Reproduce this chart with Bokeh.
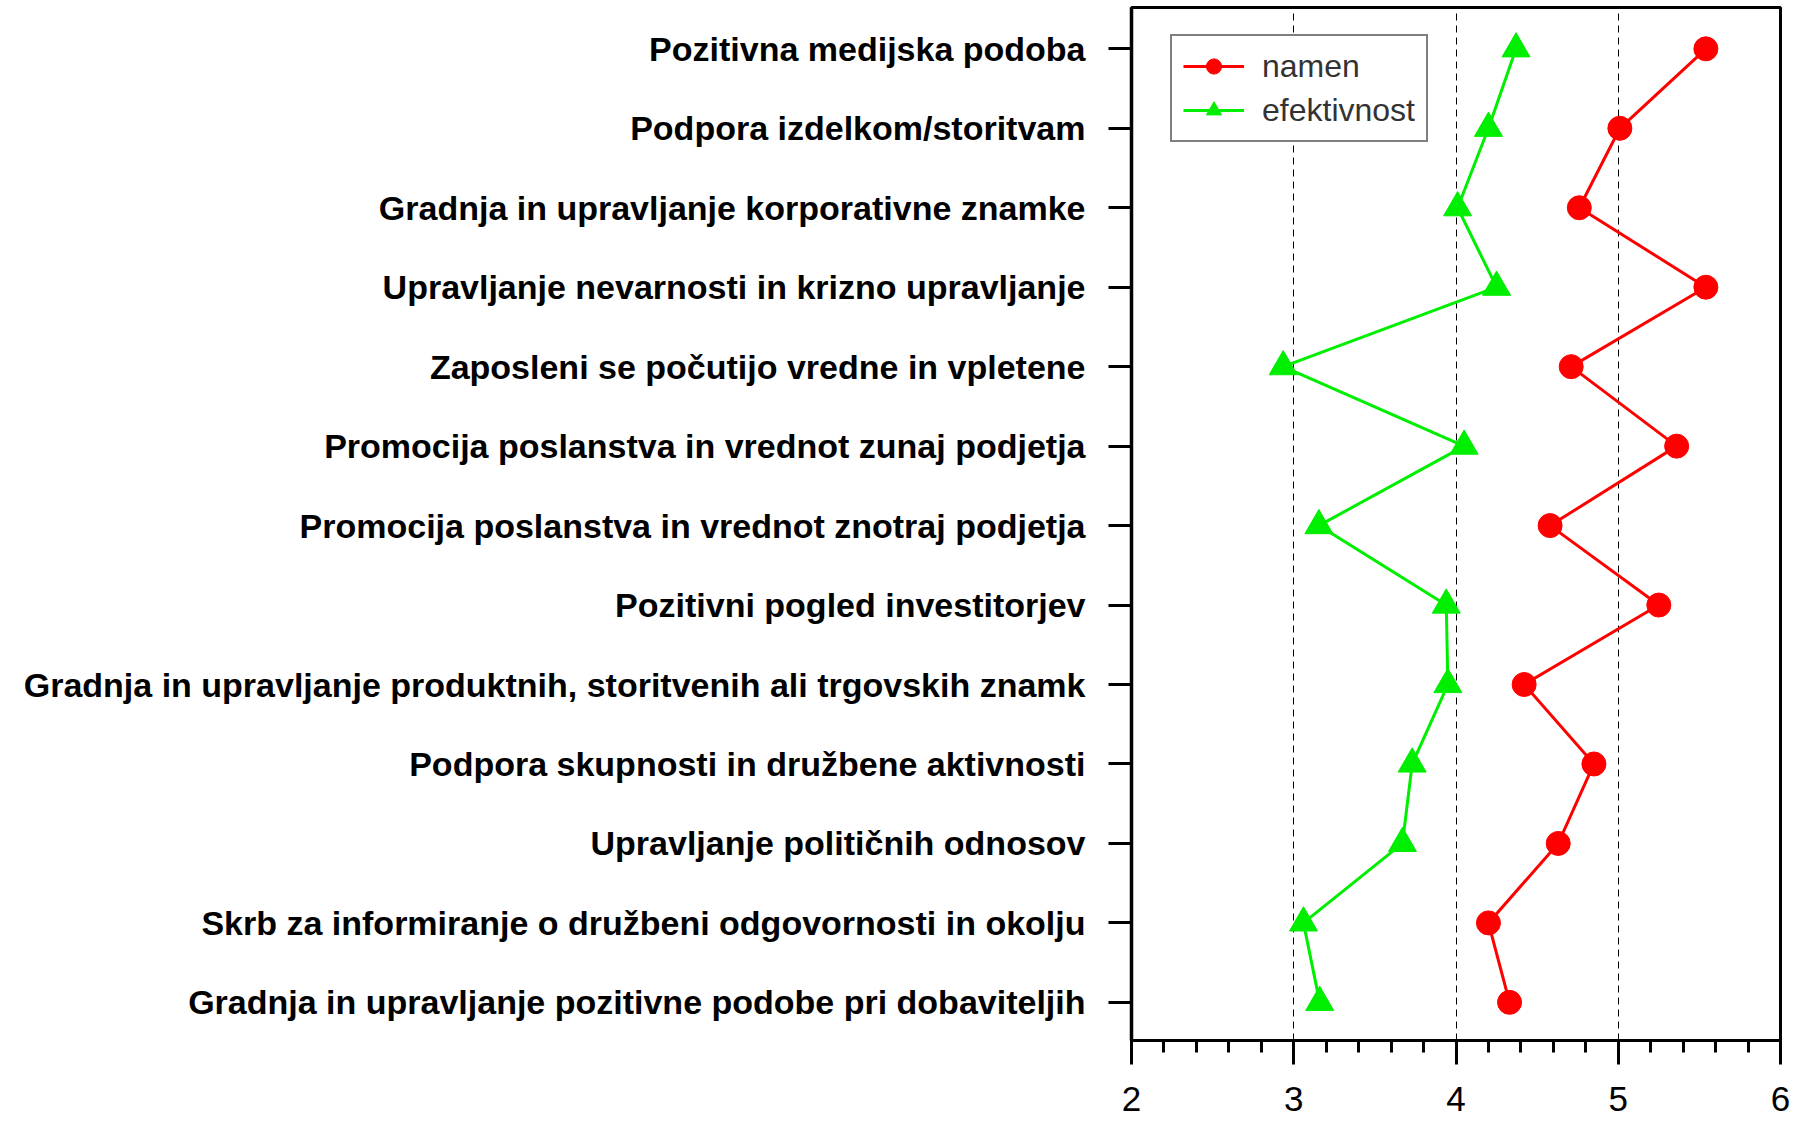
from bokeh.plotting import figure
from bokeh.models import FixedTicker, Range1d, Legend, LegendItem
from bokeh.embed import file_html
from bokeh.resources import INLINE

categories = [
    "Pozitivna medijska podoba",
    "Podpora izdelkom/storitvam",
    "Gradnja in upravljanje korporativne znamke",
    "Upravljanje nevarnosti in krizno upravljanje",
    "Zaposleni se počutijo vredne in vpletene",
    "Promocija poslanstva in vrednot zunaj podjetja",
    "Promocija poslanstva in vrednot znotraj podjetja",
    "Pozitivni pogled investitorjev",
    "Gradnja in upravljanje produktnih, storitvenih ali trgovskih znamk",
    "Podpora skupnosti in družbene aktivnosti",
    "Upravljanje političnih odnosov",
    "Skrb za informiranje o družbeni odgovornosti in okolju",
    "Gradnja in upravljanje pozitivne podobe pri dobaviteljih",
]
namen = [5.54, 5.01, 4.76, 5.54, 4.71, 5.36, 4.58, 5.25, 4.42, 4.85, 4.63, 4.20, 4.33]
efektivnost = [4.37, 4.20, 4.01, 4.25, 2.935, 4.05, 3.155, 3.94, 3.95, 3.73, 3.67, 3.06, 3.16]
x_ticks = [2, 3, 4, 5, 6]
grid_ticks = [3, 4, 5]

n = len(categories)
ypos = [n - i for i in range(n)]

p = figure(width=1800, height=1123, output_backend="svg", toolbar_location=None,
           x_range=Range1d(2, 6), y_range=Range1d(0.52, n + 0.52),
           min_border_left=1131, min_border_right=20, min_border_top=7, min_border_bottom=83)

p.background_fill_color = "white"
p.border_fill_color = "white"
p.outline_line_color = "black"
p.outline_line_width = 3

# grids
p.ygrid.visible = False
p.xgrid.ticker = FixedTicker(ticks=grid_ticks)
p.xgrid.grid_line_color = "black"
p.xgrid.grid_line_width = 1
p.xgrid.grid_line_dash = "7 5"

# x axis
minor = []
for a in x_ticks[:-1]:
    for k in range(1, 5):
        minor.append(a + k * 0.2)
p.xaxis.ticker = FixedTicker(ticks=x_ticks, minor_ticks=minor)
p.xaxis.axis_line_width = 3
p.xaxis.major_tick_line_width = 3
p.xaxis.minor_tick_line_width = 3
p.xaxis.major_tick_out = 24
p.xaxis.major_tick_in = 0
p.xaxis.minor_tick_out = 12
p.xaxis.minor_tick_in = 0
p.xaxis.major_label_text_font = "Liberation Sans"
p.xaxis.major_label_text_font_size = "35px"
p.xaxis.major_label_text_color = "black"
p.xaxis.major_label_standoff = 22

# y axis
p.yaxis.ticker = FixedTicker(ticks=ypos, minor_ticks=[])
p.yaxis.major_label_overrides = {y: c for y, c in zip(ypos, categories)}
p.yaxis.axis_line_width = 3.5
p.yaxis.major_tick_line_width = 3
p.yaxis.major_tick_out = 23
p.yaxis.major_tick_in = 0
p.yaxis.minor_tick_line_color = None
p.yaxis.major_label_text_font = "Liberation Sans"
p.yaxis.major_label_text_font_style = "bold"
p.yaxis.major_label_text_font_size = "34px"
p.yaxis.major_label_text_color = "black"
p.yaxis.major_label_standoff = 23

red = "#ff0000"
green = "#00ee00"

rl = p.line(namen, ypos, line_color=red, line_width=3)
rs = p.scatter(namen, ypos, marker="circle", size=24, fill_color=red, line_color=red)
gl = p.line(efektivnost, ypos, line_color=green, line_width=3)
gs = p.scatter(efektivnost, ypos, marker="triangle", size=28, fill_color=green, line_color=green)

legend = Legend(items=[LegendItem(label="namen", renderers=[rl, rs]),
                       LegendItem(label="efektivnost", renderers=[gl, gs])],
                location=(39, 898))
legend.border_line_color = "black"
legend.border_line_width = 2
legend.background_fill_color = "white"
legend.background_fill_alpha = 1
legend.label_text_font = "Liberation Sans"
legend.label_text_font_size = "32px"
legend.label_text_color = "#333333"
legend.glyph_width = 61
legend.glyph_height = 38
legend.label_height = 38
legend.label_standoff = 18
legend.spacing = 6
legend.padding = 11
legend.margin = 0
p.add_layout(legend, "center")

open("out.html", "w").write(file_html(p, INLINE))
